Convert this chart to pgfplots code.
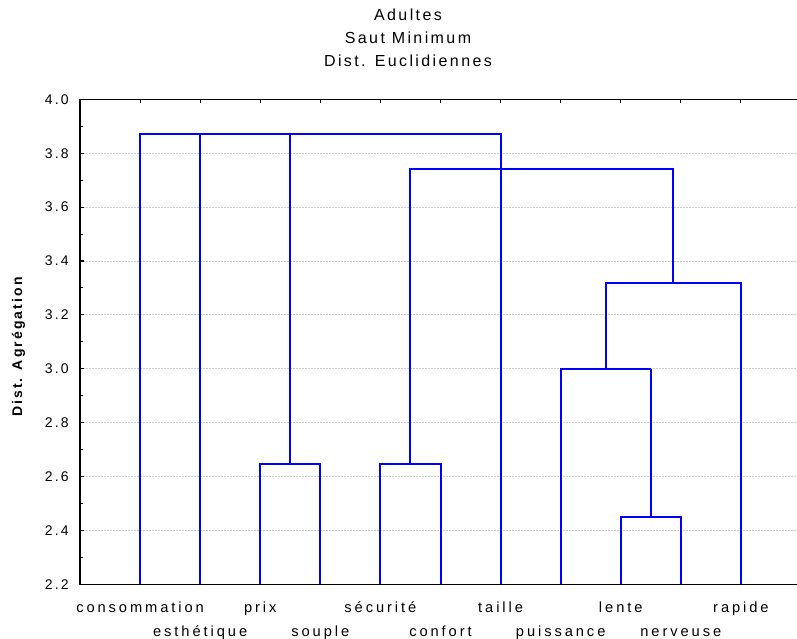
\documentclass[border=0pt]{standalone}
\usepackage{fontspec}
\setmainfont[LetterSpace=15]{Liberation Sans}
\newfontfamily\xlabfont[LetterSpace=20]{Liberation Sans}
\usepackage{pgfplots}
\pgfplotsset{compat=1.18}
\definecolor{treeblue}{RGB}{0,0,255}
\pgfplotsset{dendro/.style={draw=treeblue, color=treeblue, line width=1.5pt, line join=miter, mark=none, solid}}
\begin{document}
\begin{tikzpicture}
\begin{axis}[
  scale only axis,
  width=540.75pt, height=363.75pt,
  xmin=0, xmax=12, ymin=2.2, ymax=4.0,
  axis line style={black, line width=1.2pt},
  tick align=inside,
  major tick length=3pt, minor tick length=2pt,
  every tick/.style={black, line width=0.8pt},
  xtick={1,3,5,7,9,11},
  xticklabels={consommation,prix,sécurité,taille,lente,rapide},
  extra x ticks={2,4,6,8,10},
  extra x tick labels={esthétique,souple,confort,puissance,nerveuse},
  extra x tick style={xticklabel style={yshift=-18pt}, grid=none},
  xticklabel style={anchor=base, yshift=-21pt, font=\xlabfont\fontsize{11pt}{12pt}\selectfont},
  ytick={2.2,2.4,...,4.0},
  minor y tick num=1,
  yticklabel style={font=\fontsize{10.5pt}{12pt}\selectfont, xshift=-5pt,
    /pgf/number format/.cd, fixed, fixed zerofill, precision=1, assume math mode=true},
  ymajorgrids, xmajorgrids=false,
  major grid style={dash pattern=on 1.5pt off 0.75pt, gray!40, line width=0.7pt},
  ylabel={Dist. Agrégation},
  ylabel style={font=\bfseries\fontsize{10.5pt}{12pt}\selectfont, at={(axis description cs:-0.0853,0.489)}, anchor=center},
  clip=false,
]
% consommation + top link
\addplot[dendro] coordinates {(1,2.2) (1,3.8730) (7,3.8730) (7,3.7417)};
% esthetique
\addplot[dendro] coordinates {(2,2.2) (2,3.8730)};
% prix - souple
\addplot[dendro] coordinates {(3,2.2) (3,2.6458) (4,2.6458) (4,2.2)};
\addplot[dendro] coordinates {(3.5,2.6458) (3.5,3.8730)};
% securite - confort
\addplot[dendro] coordinates {(5,2.2) (5,2.6458) (6,2.6458) (6,2.2)};
\addplot[dendro] coordinates {(5.5,2.6458) (5.5,3.7417) (9.875,3.7417) (9.875,3.3166)};
% taille
\addplot[dendro] coordinates {(7,2.2) (7,3.7417)};
% lente - nerveuse
\addplot[dendro] coordinates {(9,2.2) (9,2.4495) (10,2.4495) (10,2.2)};
\addplot[dendro] coordinates {(9.5,2.4495) (9.5,3.0)};
% puissance
\addplot[dendro] coordinates {(8,2.2) (8,3.0) (9.5,3.0)};
% rapide
\addplot[dendro] coordinates {(8.75,3.0) (8.75,3.3166) (11,3.3166) (11,2.2)};
\node[anchor=base, font=\fontsize{12pt}{14pt}\selectfont] at ([yshift=59.25pt]axis description cs:0.4549,1) {Adultes};
\node[anchor=base, font=\fontsize{12pt}{14pt}\selectfont] at ([yshift=42pt]axis description cs:0.4549,1) {Saut Minimum};
\node[anchor=base, font=\fontsize{12pt}{14pt}\selectfont] at ([yshift=24.75pt]axis description cs:0.4549,1) {Dist. Euclidiennes};
\end{axis}
\pgfresetboundingbox
\useasboundingbox (-60pt,-41pt) rectangle (537.75pt,438.25pt);
\end{tikzpicture}
\end{document}
